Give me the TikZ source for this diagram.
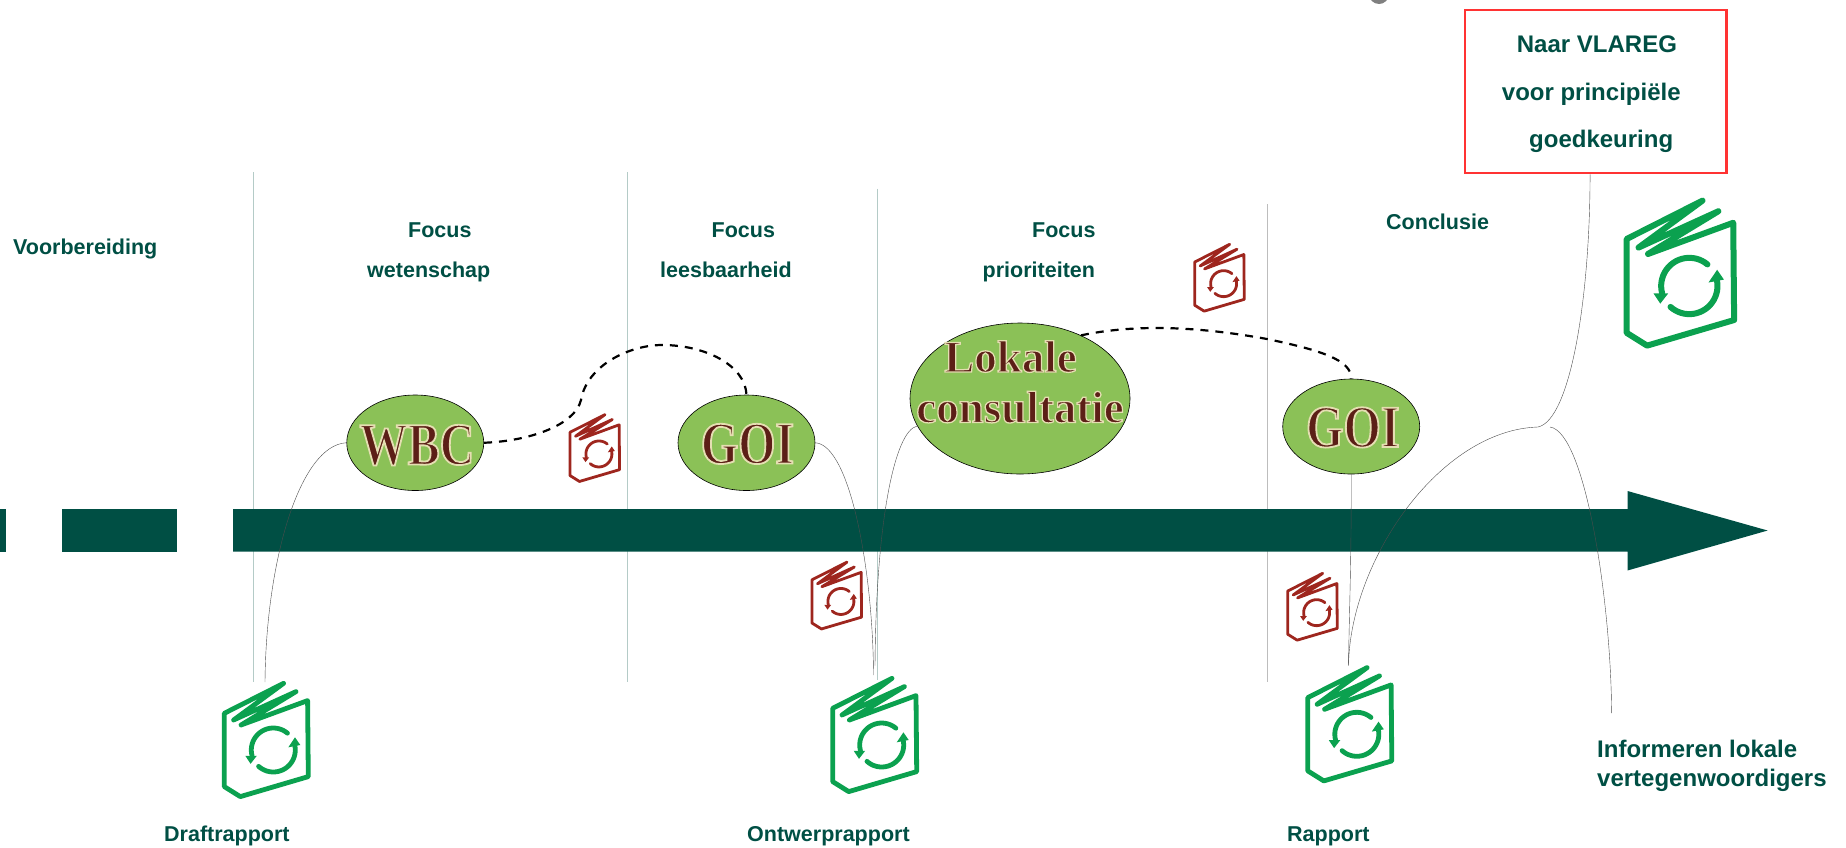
\documentclass[tikz,border=0pt]{standalone}
\usepackage{fontspec}
\usetikzlibrary{shapes.geometric}
\setmainfont{Liberation Sans}
\newfontfamily\bubblefont[FakeBold=2.8]{Liberation Serif Bold}
\newfontfamily\bubblefontn[FakeBold=3,FakeStretch=0.8]{Liberation Serif Bold}
\definecolor{teal}{HTML}{004F44}
\definecolor{leaf}{HTML}{8BC157}
\definecolor{bookgreen}{HTML}{0BA14F}
\definecolor{bookred}{HTML}{9E261E}
\definecolor{boxred}{HTML}{FF3333}
\definecolor{sep}{HTML}{B4CBC7}
\definecolor{sepgray}{HTML}{BDBDBD}
\newcommand\halo[1]{\special{pdf:bcolor [0.36 0.12 0.09] [0.90 0.87 0.70]}#1\special{pdf:ecolor}}
\newcommand\bookicon[5]{% x y scale colour width
\begin{scope}[shift={(#1,#2)},scale=#3,draw=#4,fill=#4,line width=#5pt,line join=round,line cap=round]
\draw[fill=none] (0,0) -- (0,73.3) -- (16,83.3) -- (84,63.3) -- (83.3,-12.7) -- (16.7,11.7) -- (71.7,-21.7) -- (9.3,6.7) -- (59.3,-30) -- cycle;
\draw[fill=none] plot[domain=50:195,samples=24] ({49+22*cos(\x)},{36.7-22*sin(\x)});
\draw[fill=none] plot[domain=228:375,samples=24] ({49+22*cos(\x)},{36.7-22*sin(\x)});
\fill (21,42.5) -- (32.5,42.5) -- (26.3,50.5) -- cycle;
\fill (64,34) -- (76,31.7) -- (70.7,24) -- cycle;
\end{scope}}
\tikzset{
 lab/.style={anchor=base west,inner sep=0pt,text=teal,font=\fontsize{21.5}{25}\selectfont\bfseries},
 labb/.style={lab,font=\fontsize{24}{28}\selectfont\bfseries},
 bubble/.style={ellipse,draw=black,line width=0.6pt,fill=leaf,inner sep=0pt},
 bubbletext/.style={inner sep=0pt,anchor=base},
 sepline/.style={draw=sep,line width=0.8pt},
 thin link/.style={draw=black!70,line width=0.4pt},
 dash link/.style={draw=black,line width=2.2pt,dash pattern=on 8pt off 7pt},
}
\begin{document}
\begin{tikzpicture}[x=1pt,y=-1pt]
\useasboundingbox (0,0) rectangle (1846,847);
% separators
\coordinate (s1a) at (253,172); \coordinate (s1b) at (253,682);
\coordinate (s2a) at (627,172); \coordinate (s2b) at (627,682);
\coordinate (s3a) at (877.5,188.5); \coordinate (s3b) at (877.5,680);
\coordinate (s4a) at (1267,204); \coordinate (s4b) at (1267,682);
\draw[sepline] (s1a) -- (s1b);
\draw[sepline] (s2a) -- (s2b);
\draw[sepline] (s3a) -- (s3b);
\draw[sepline,draw=sepgray] (s4a) -- (s4b);
% timeline
\fill[teal] (0,509) rectangle (6,551.6);
\fill[teal] (62,509) rectangle (176.6,551.6);
\fill[teal] (233,509) -- (1627.5,509) -- (1627.5,491) -- (1767.6,530.5) -- (1627.5,570.5) -- (1627.5,551.6) -- (233,551.6) -- cycle;
% top fragment
\fill[gray] (1379,-6) circle (10);
% ellipses
\node[bubble,minimum width=137pt,minimum height=95.5pt] (wbc) at (415.25,442.75) {};
\node[bubble,minimum width=137pt,minimum height=95.5pt] (goia) at (746.5,442.75) {};
\node[bubble,minimum width=220pt,minimum height=151pt] (lok) at (1020,398.5) {};
\node[bubble,minimum width=137pt,minimum height=95pt] (goib) at (1351.2,426.5) {};
\node[bubbletext] (twbc) at (417,464.5) {\bubblefontn\fontsize{60}{60}\selectfont\halo{WBC}};
\node[bubbletext] (tgoia) at (747.5,463.5) {\bubblefontn\fontsize{60}{60}\selectfont\halo{GOI}};
\node[bubbletext] (tgoib) at (1352.8,447) {\bubblefontn\fontsize{60}{60}\selectfont\halo{GOI}};
\node[bubbletext] (tloka) at (1010.5,372) {\bubblefont\fontsize{45}{45}\selectfont\halo{Lokale}};
\node[bubbletext] (tlokb) at (1020,422.5) {\bubblefont\fontsize{45}{45}\selectfont\halo{consultatie}};
% red box
\node[draw=boxred,line width=2.6pt,fill=white,minimum width=261.7pt,minimum height=163pt,inner sep=0pt] (box) at (1595.85,91.5) {};
\node[labb] (bt1) at (1516.7,52.7) {Naar VLAREG};
\node[labb] (bt2) at (1501.7,100) {voor principiële};
\node[labb] (bt3) at (1529,147) {goedkeuring};
% labels
\node[lab] (t1) at (13,254) {Voorbereiding};
\node[lab] (t2) at (408,237) {Focus};
\node[lab] (t3) at (367,277.7) {wetenschap};
\node[lab] (t4) at (711.5,237) {Focus};
\node[lab] (t5) at (660,277.7) {leesbaarheid};
\node[lab] (t6) at (1032,237) {Focus};
\node[lab] (t7) at (982.5,277.7) {prioriteiten};
\node[lab] (t8) at (1386,229.6) {Conclusie};
\node[lab] (t9) at (164,841) {Draftrapport};
\node[lab] (t10) at (747,841) {Ontwerprapport};
\node[lab] (t11) at (1287,841) {Rapport};
\node[labb] (t12) at (1597,757) {Informeren lokale};
\node[labb] (t13) at (1597,786) {vertegenwoordigers};
% free ends
\coordinate (e1) at (265,682);
\coordinate (e2) at (873.5,675);
\coordinate (e3) at (875,665.6);
\coordinate (e4) at (1348.5,665.6);
\coordinate (j1) at (1538,427);
\coordinate (j2) at (1550,427);
\coordinate (e5) at (1611.6,713);
% thin links
\draw[thin link] (e1) .. controls (266,560) and (300,445) .. (wbc.west);
\draw[thin link] (goia.east) .. controls (850,445) and (873,570) .. (e2);
\draw[thin link] (lok.195) .. controls (895,430) and (876,520) .. (e3);
\draw[thin link] (goib.south) .. controls (1351.5,560) and (1349,620) .. (e4);
\draw[thin link] (e4) .. controls (1350,560) and (1440,430) .. (j1);
\draw[thin link] (j1) .. controls (1570,420) and (1590,300) .. (box.266);
\draw[thin link] (j2) .. controls (1585,432) and (1611,600) .. (e5);
% dashed links
\draw[dash link] (wbc.east) .. controls (530,441) and (575,425) .. (581,400) .. controls (587,365) and (630,345) .. (662,345) .. controls (705,345) and (745,365) .. (goia.north);
\draw[dash link] (lok.46) .. controls (1130,325) and (1190,325) .. (1267,339) .. controls (1320,350) and (1352,360) .. (goib.north);
% books
\bookicon{224.3}{713.3}{1}{bookgreen}{4.8}
\bookicon{832.7}{708.3}{1}{bookgreen}{4.8}
\bookicon{1307.8}{697.6}{1}{bookgreen}{4.8}
\bookicon{1626.6}{239}{1.28}{bookgreen}{6}
\bookicon{570}{432.3}{0.59}{bookred}{2.8}
\bookicon{812}{579.8}{0.59}{bookred}{2.8}
\bookicon{1194.7}{262}{0.59}{bookred}{2.8}
\bookicon{1287.7}{591}{0.59}{bookred}{2.8}
\end{tikzpicture}
\end{document}
